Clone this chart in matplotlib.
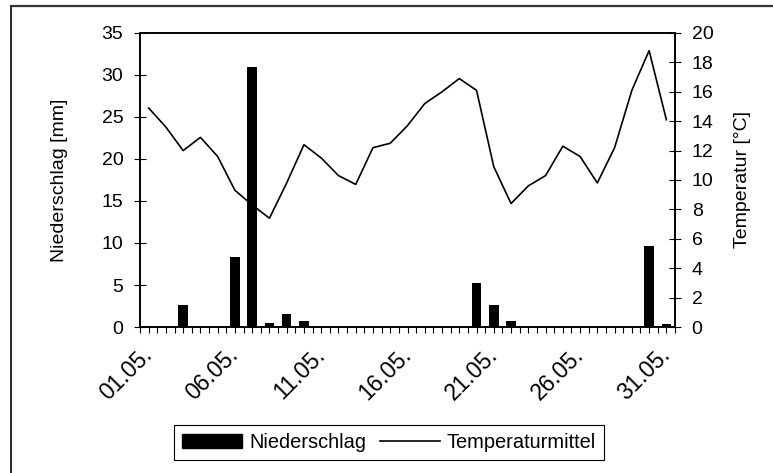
import matplotlib.pyplot as plt
from matplotlib.patches import Patch
from matplotlib.lines import Line2D
from matplotlib.ticker import MultipleLocator
from matplotlib.transforms import ScaledTranslation

plt.rcParams['font.family'] = ['Liberation Sans', 'DejaVu Sans']

days = list(range(1, 32))
tick_days = [1, 6, 11, 16, 21, 26, 31]
tick_labels = ["01.05.", "06.05.", "11.05.", "16.05.", "21.05.", "26.05.", "31.05."]

# Niederschlag [mm]
rain = [0, 0, 2.6, 0, 0, 8.3, 31.0, 0.5, 1.5, 0.7,
        0, 0, 0, 0, 0, 0, 0, 0, 0, 5.2,
        2.6, 0.7, 0, 0, 0, 0, 0, 0, 0, 9.7, 0.3]

# Temperaturmittel [°C]
temp = [14.9, 13.6, 12.0, 12.9, 11.6, 9.3, 8.3, 7.4, 9.8, 12.4,
        11.5, 10.3, 9.7, 12.2, 12.5, 13.7, 15.2, 16.0, 16.9, 16.1,
        10.9, 8.4, 9.6, 10.3, 12.3, 11.6, 9.8, 12.2, 16.1, 18.8, 14.1]

W, H = 773, 473
FS = 14
fig = plt.figure(figsize=(W / 100, H / 100), dpi=100)
# outer frame (only left and top edges are visible in the original)
fig.add_artist(Line2D([10.5 / W, 10.5 / W], [0, 1 - 6.5 / H], color='black', linewidth=1.2))
fig.add_artist(Line2D([10.5 / W, 1], [1 - 6.5 / H, 1 - 6.5 / H], color='#333333', linewidth=1.6))

ax = fig.add_axes([140 / W, 1 - 327 / H, 535 / W, 294 / H])
ax2 = ax.twinx()
ax.set_zorder(ax2.get_zorder() + 1)
ax.patch.set_visible(False)

ax.bar(days, rain, width=0.55, color='black', zorder=3)
ax2.plot(days, temp, color='black', linewidth=1.2)

ax.set_xlim(0.5, 31.5)
ax.set_ylim(0, 35)
ax2.set_ylim(0, 20)
ax.set_yticks(range(0, 36, 5))
ax2.set_yticks(range(0, 21, 2))

ax.set_xticks(tick_days)
ax.set_xticklabels(tick_labels, rotation=45, ha='right', va='center',
                   rotation_mode='anchor', fontsize=16.5)
shift = ScaledTranslation(-23 / 100, 0, fig.dpi_scale_trans)
for lab in ax.get_xticklabels():
    lab.set_transform(lab.get_transform() + shift)
ax.xaxis.set_minor_locator(MultipleLocator(0.5))
ax.tick_params(axis='x', which='both', direction='out', length=4, width=0.8, pad=13.5)
ax.tick_params(axis='y', direction='inout', length=8, width=0.8, labelsize=FS, pad=8)
ax2.tick_params(axis='y', direction='inout', length=8, width=0.8, labelsize=FS, pad=8)

for a in (ax, ax2):
    for s in a.spines.values():
        s.set_linewidth(1.2)

ax.set_ylabel("Niederschlag [mm]", fontsize=FS, labelpad=24)
ax2.set_ylabel("Temperatur [°C]", fontsize=FS, labelpad=15)

handles = [Patch(facecolor='black', edgecolor='black'),
           Line2D([], [], color='black', linewidth=1.2)]
fig.legend(handles, ["Niederschlag", "Temperaturmittel"], loc='center',
           bbox_to_anchor=(389 / W, 1 - 442.5 / H), ncol=2, frameon=True, fancybox=False,
           edgecolor='black', fontsize=14.4, handlelength=3.0, handleheight=0.65,
           handletextpad=0.35, columnspacing=0.7, borderpad=0.4, framealpha=1)
fig.legends[0].get_frame().set_linewidth(0.8)

fig.savefig("out.png", dpi=100)
